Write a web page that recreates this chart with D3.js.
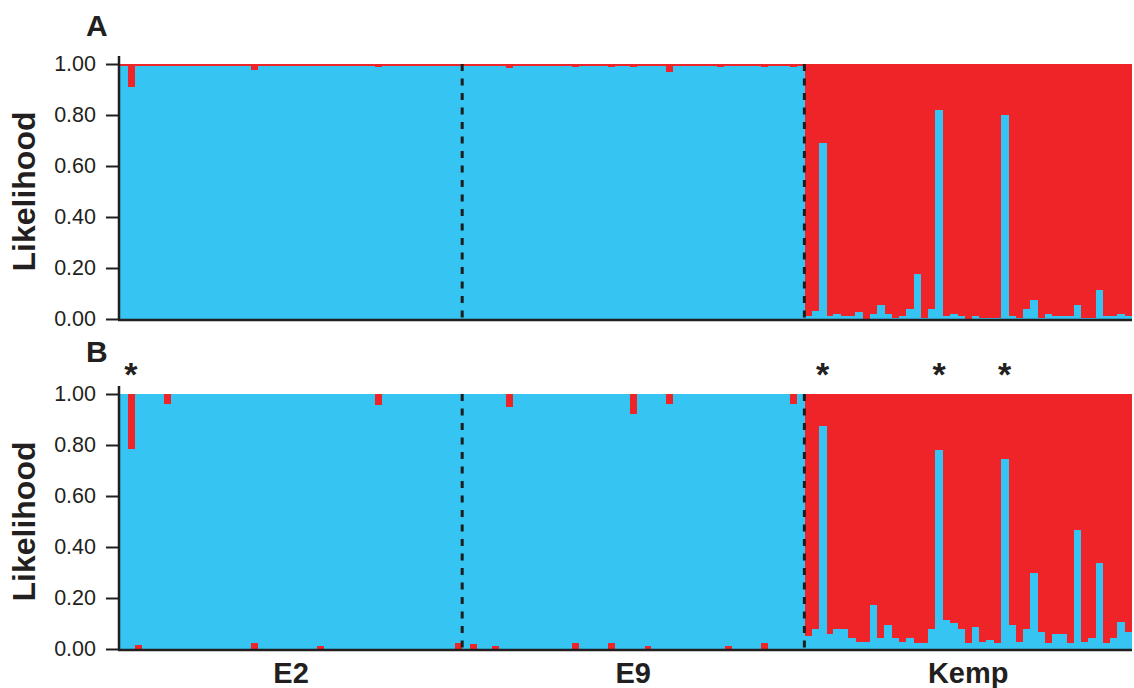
<!DOCTYPE html>
<meta charset="utf-8">
<script src="https://cdn.jsdelivr.net/npm/d3@7"></script>
<style>
  body { margin: 0; background: #fff; }
  text { font-family: Arial, "Liberation Sans", sans-serif; fill: #231f20; }
  .tick text { font-size: 21.5px; }
  .panel { font-size: 30px; font-weight: bold; }
  .ylab { font-size: 32px; font-weight: bold; }
  .grp { font-size: 29px; font-weight: bold; text-anchor: middle; }
  .star { font-size: 34px; font-weight: bold; text-anchor: middle; }
</style>
<svg width="1134" height="688"></svg>
<script>

const groups = ["E2", "E9", "Kemp"];
const colors = { blue: "#36c5f2", red: "#ee2429" };

// panel A : upper edge of the blue part of each bar
const e2BlueA = [
  .992,.91,.992,.992,.992,.992,.992,.992,.992,.992,
  .992,.992,.992,.992,.992,.992,.992,.992,.975,.992,
  .992,.992,.992,.992,.992,.992,.992,.992,.992,.992,
  .992,.992,.992,.992,.992,.988,.992,.992,.992,.992,
  .992,.992,.992,.992,.992,.992,.992];
const e9BlueA = [
  .992,.992,.992,.992,.992,.992,.985,.992,.992,.992,
  .992,.992,.992,.992,.992,.988,.992,.992,.992,.992,
  .988,.992,.992,.988,.992,.992,.992,.992,.97,.992,
  .992,.992,.992,.992,.992,.988,.992,.992,.992,.992,
  .992,.988,.992,.992,.992,.988,.992];
const kempBlueA = [
  .012,.031,.69,.012,.02,.012,.012,.027,0,.02,
  .055,.02,.004,.012,.04,.176,.004,.04,.82,.012,
  .02,.012,0,.012,.004,.004,.004,.80,.012,.004,
  .04,.075,.004,.02,.012,.012,.012,.055,.004,.004,
  .114,.012,.012,.02,.012];

// panel B : upper edge of blue
const e2BlueB = [
  1,.785,1,1,1,1,.96,1,1,1,
  1,1,1,1,1,1,1,1,1,1,
  1,1,1,1,1,1,1,1,1,1,
  1,1,1,1,1,.955,1,1,1,1,
  1,1,1,1,1,1,1];
const e9BlueB = [
  1,1,1,1,1,1,.95,1,1,1,
  1,1,1,1,1,1,1,1,1,1,
  1,1,1,.92,1,1,1,1,.96,1,
  1,1,1,1,1,1,1,1,1,1,
  1,1,1,1,1,.96,1];
const kempBlueB = [
  .051,.078,.875,.059,.078,.078,.043,.027,.027,.173,
  .043,.094,.043,.027,.043,.024,.024,.078,.78,.114,
  .102,.078,.024,.086,.027,.035,.024,.745,.094,.027,
  .078,.30,.067,.024,.059,.059,.024,.467,.027,.043,
  .337,.024,.043,.106,.067];

// panel B : red share under the blue
const e2LowB = [
  0,0,.015,0,0,0,0,0,0,0,
  0,0,0,0,0,0,0,0,.025,0,
  0,0,0,0,0,0,0,.01,0,0,
  0,0,0,0,0,0,0,0,0,0,
  0,0,0,0,0,0,.025];
const e9LowB = [
  0,.02,0,0,.01,0,0,0,0,0,
  0,0,0,0,0,.025,0,0,0,0,
  .025,0,0,0,0,.01,0,0,0,0,
  0,0,0,0,0,0,.01,0,0,0,
  0,.025,0,0,0,0,0];

// starred individuals (group, index in group)
const starred = [["E2", 1], ["Kemp", 2], ["Kemp", 18], ["Kemp", 27]];

const yTicks = [0, 0.2, 0.4, 0.6, 0.8, 1];

function rows(hiByGroup, loByGroup) {
  let out = [];
  groups.forEach((g, gi) => {
    hiByGroup[gi].forEach((hi, i) => {
      out.push({ id: g + "_" + i, group: g, hi: hi, lo: loByGroup ? loByGroup[gi][i] : 0 });
    });
  });
  return out;
}

const dataA = rows([e2BlueA, e9BlueA, kempBlueA]);
const dataB = rows([e2BlueB, e9BlueB, kempBlueB],
                   [e2LowB, e9LowB, kempBlueB.map(() => 0)]);

const svg = d3.select("svg");
const left = 120, right = 1132;

const x = d3.scaleBand()
  .domain(dataA.map(d => d.id))
  .range([left, right])
  .padding(0);

function drawPanel(data, top, bottom, letter, letterY) {
  const y = d3.scaleLinear().domain([0, 1]).range([bottom, top]);
  const g = svg.append("g");

  g.append("rect")
    .attr("x", left).attr("y", top)
    .attr("width", right - left).attr("height", bottom - top)
    .attr("fill", colors.red);

  g.selectAll(".bar")
    .data(data)
    .enter().append("rect")
    .attr("class", "bar")
    .attr("x", d => x(d.id))
    .attr("width", x.bandwidth() + 0.3)
    .attr("y", d => y(d.hi))
    .attr("height", d => y(d.lo) - y(d.hi))
    .attr("fill", colors.blue)
    .attr("shape-rendering", "crispEdges");

  // dashed separators between the groups
  groups.slice(1).forEach(gr => {
    const first = data.find(d => d.group == gr);
    g.append("line")
      .attr("x1", x(first.id)).attr("x2", x(first.id))
      .attr("y1", top).attr("y2", bottom)
      .attr("stroke", "#1d1d1b")
      .attr("stroke-width", 3)
      .attr("stroke-dasharray", "7,7.5");
  });

  const ax = g.append("g")
    .attr("transform", `translate(${left - 1},0)`)
    .call(d3.axisLeft(y)
      .tickValues(yTicks)
      .tickFormat(d3.format(".2f"))
      .tickSize(13)
      .tickSizeOuter(0)
      .tickPadding(10));
  ax.select(".domain").remove();
  ax.selectAll(".tick line").attr("stroke", "#231f20").attr("stroke-width", 2);
  ax.selectAll(".tick text").attr("fill", "#231f20");

  g.append("line")
    .attr("x1", left - 1).attr("x2", left - 1)
    .attr("y1", top - 8).attr("y2", bottom + 1)
    .attr("stroke", "#231f20").attr("stroke-width", 2.5);
  g.append("line")
    .attr("x1", left - 2).attr("x2", right)
    .attr("y1", bottom + 1).attr("y2", bottom + 1)
    .attr("stroke", "#231f20").attr("stroke-width", 2.5);

  g.append("text")
    .attr("class", "ylab")
    .attr("transform", `translate(35,${(top + bottom) / 2}) rotate(-90)`)
    .attr("text-anchor", "middle")
    .text("Likelihood");

  g.append("text")
    .attr("class", "panel")
    .attr("x", 86).attr("y", letterY)
    .text(letter);
}

drawPanel(dataA, 64, 319, "A", 36);
drawPanel(dataB, 394, 649, "B", 362);

// stars above panel B
svg.selectAll(".star")
  .data(starred)
  .enter().append("text")
  .attr("class", "star")
  .attr("x", d => x(d[0] + "_" + d[1]) + x.bandwidth() / 2)
  .attr("y", 386)
  .text("*");

// group names under the plot
groups.forEach(gr => {
  const ids = dataA.filter(d => d.group == gr).map(d => x(d.id));
  svg.append("text")
    .attr("class", "grp")
    .attr("x", (d3.min(ids) + d3.max(ids) + x.bandwidth()) / 2)
    .attr("y", 683)
    .text(gr);
});
</script>
